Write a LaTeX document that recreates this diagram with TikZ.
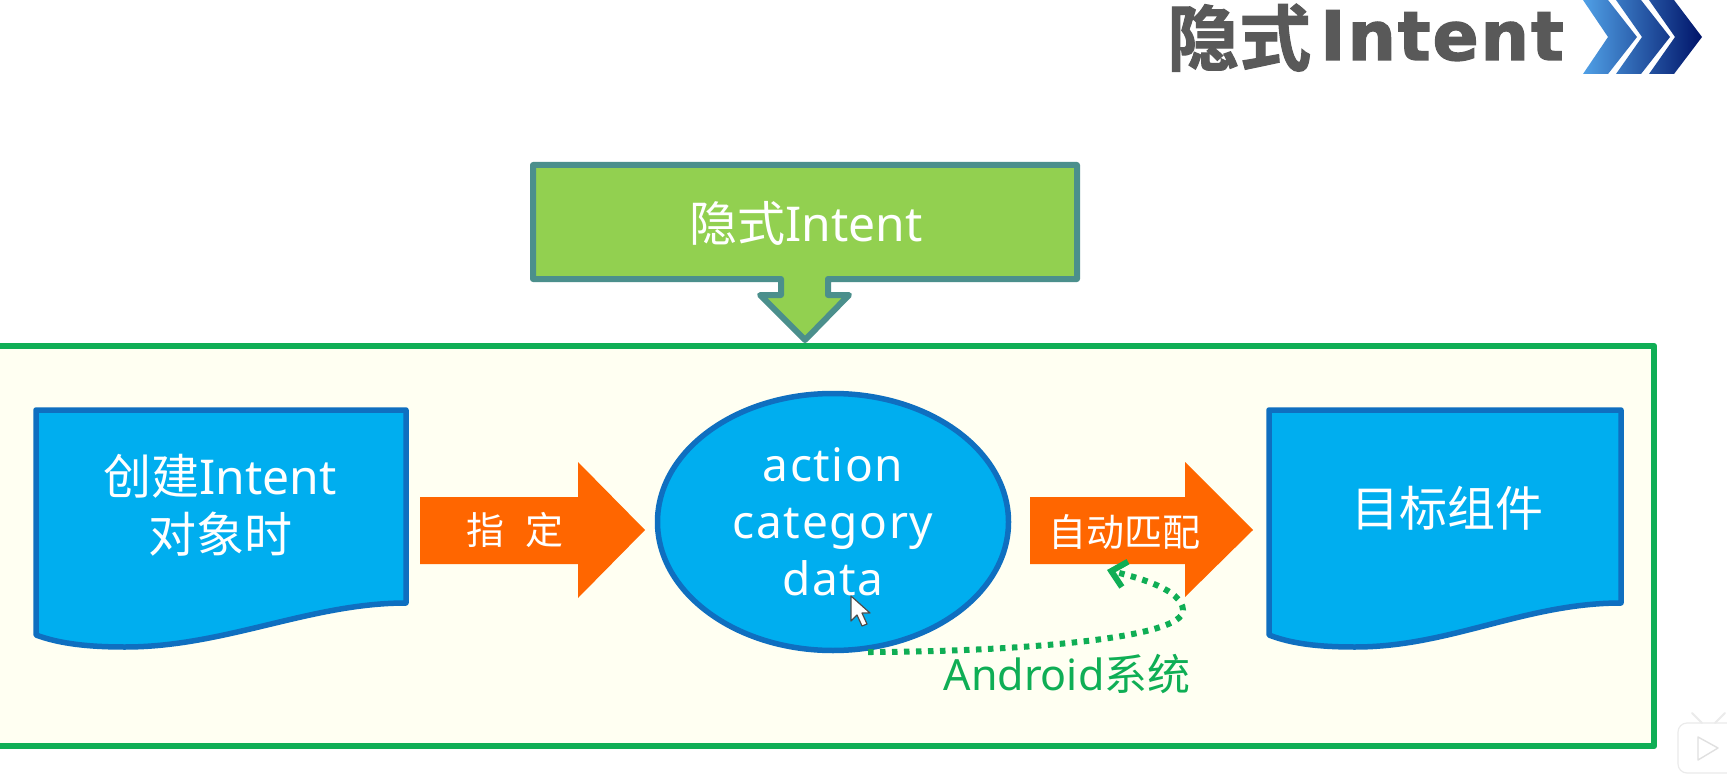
\documentclass[tikz,border=0pt]{standalone}
\usepackage{fontspec}
\usetikzlibrary{arrows.meta,shapes.geometric}
\setmainfont{Noto Sans}
\newfontfamily\cjk{Noto Sans CJK SC}
\newfontfamily\cjkb[FakeBold=1.5]{Noto Sans CJK SC Bold}
\newfontfamily\latspaced[LetterSpace=3.5]{Noto Sans}
\newfontfamily\headlat[LetterSpace=3,FakeBold=2]{DejaVu Sans Bold}
\definecolor{frameG}{HTML}{0FAE55}
\definecolor{frameBg}{HTML}{FFFFF2}
\definecolor{boxG}{HTML}{92D050}
\definecolor{boxL}{HTML}{4B8F8C}
\definecolor{blueF}{HTML}{00AEEF}
\definecolor{blueL}{HTML}{0F6FC0}
\definecolor{orangeF}{HTML}{FF6600}
\definecolor{headG}{HTML}{595959}
\tikzset{
  shapeblue/.style={fill=blueF,draw=blueL,line width=5.5pt,line join=round},
  orangearrow/.style={fill=orangeF,draw=none},
  greenshape/.style={fill=boxG,draw=boxL,line width=6pt,line join=round},
  whitetext/.style={text=white,align=center,inner sep=0pt},
  headtext/.style={text=headG,inner sep=0pt,anchor=base west},
}
\begin{document}
\begin{tikzpicture}[x=1pt,y=-1pt]
\useasboundingbox (0,0) rectangle (1727,778);
\fill[white] (0,0) rectangle (1727,778);

% header
\node[headtext,font=\cjkb\fontsize{72}{72}\selectfont] (headzh) at (1167,65) {隐式};
\node[headtext,font=\headlat\fontsize{68}{68}\selectfont] (headen) at (1320,60) {Intent};
\shade[left color={rgb,255:red,80;green,160;blue,230},right color={rgb,255:red,0;green,20;blue,105}]
  (1583,0) -- (1608,0) -- (1637,37) -- (1608,74) -- (1583,74) -- (1608,37) -- cycle
  (1616,0) -- (1641,0) -- (1670,37) -- (1641,74) -- (1616,74) -- (1642,37) -- cycle
  (1649,0) -- (1674,0) -- (1702,37) -- (1674,74) -- (1649,74) -- (1675,37) -- cycle;

% frame
\draw[fill=frameBg,draw=frameG,line width=6.5pt,line join=round] (-8,346) rectangle (1654,746);

% top callout
\draw[greenshape] (533,165) -- (1077,165) -- (1077,279) -- (828,279) -- (828,295) -- (849,295)
  -- (805,340) -- (760,295) -- (781,295) -- (781,279) -- (533,279) -- cycle;
\node[whitetext,font=\fontsize{48}{48}\selectfont] (top) at (806,223) {{\cjk 隐式}Intent};

% document left
\draw[shapeblue] (36,410) -- (406,410) -- (406,603)
  .. controls (310,603) and (225,647) .. (125,647)
  .. controls (90,647) and (60,644) .. (36,635) -- cycle;
\node[whitetext,font=\fontsize{48}{58}\selectfont] (create) at (220,505) {{\cjk 创建}Intent\\{\cjk 对象时}};

% arrow 1
\fill[orangearrow] (420,497) -- (578,497) -- (578,462) -- (645,530) -- (578,598) -- (578,564) -- (420,564) -- cycle;
\node[whitetext,font=\cjk\fontsize{38}{38}\selectfont] (assign) at (515,530) {指\hspace{0.55em}定};

% ellipse
\node[ellipse,shapeblue,minimum width=351pt,minimum height=257pt,inner sep=0pt] (ell) at (833,522) {};
\node[whitetext,font=\latspaced\fontsize{46}{57}\selectfont] (fields) at (833,522) {action\\category\\data};

% arrow 2
\fill[orangearrow] (1030,497) -- (1185,497) -- (1185,462) -- (1253,530) -- (1185,597) -- (1185,564) -- (1030,564) -- cycle;
\node[whitetext,font=\cjk\fontsize{38}{38}\selectfont] (match) at (1124,532) {自动匹配};

% document right
\draw[shapeblue] (1269,410) -- (1621,410) -- (1621,603)
  .. controls (1525,603) and (1450,647) .. (1355,647)
  .. controls (1320,647) and (1292,644) .. (1269,635) -- cycle;
\node[whitetext,font=\cjk\fontsize{48}{48}\selectfont] (target) at (1447,508) {目标组件};

% dotted connector
\coordinate (dotA) at (868,652);
\coordinate (dotB) at (1107,570);
\draw[frameG,line width=6pt,dash pattern=on 5.5pt off 6.5pt,-{Straight Barb[length=14pt,width=26pt,line width=6pt]}]
  (dotA) .. controls (1000,652) and (1185,640) .. (1183,610) .. controls (1182,590) and (1140,578) .. (dotB);
\node[text=frameG,inner sep=0pt,font=\fontsize{43}{43}\selectfont] (android) at (1067,674) {Android{\cjk 系统}};

% mouse cursor
\draw[fill=white,draw=black!70,line width=1.2pt,line join=round]
  (851,596) -- (851,621) -- (857,615) -- (862,626) -- (867,624) -- (862,613) -- (870,613) -- cycle;

% player badge
\draw[fill=white,draw=black!8,line width=1.2pt,rounded corners=9pt]
  (1678,723) rectangle (1740,773);
\draw[black!8,line width=2pt,line cap=round] (1692,713) -- (1702,723) (1725,713) -- (1715,723);
\draw[fill=white,draw=black!12,line width=1.4pt,line join=round] (1698,737) -- (1698,760) -- (1718,748) -- cycle;
\end{tikzpicture}
\end{document}
